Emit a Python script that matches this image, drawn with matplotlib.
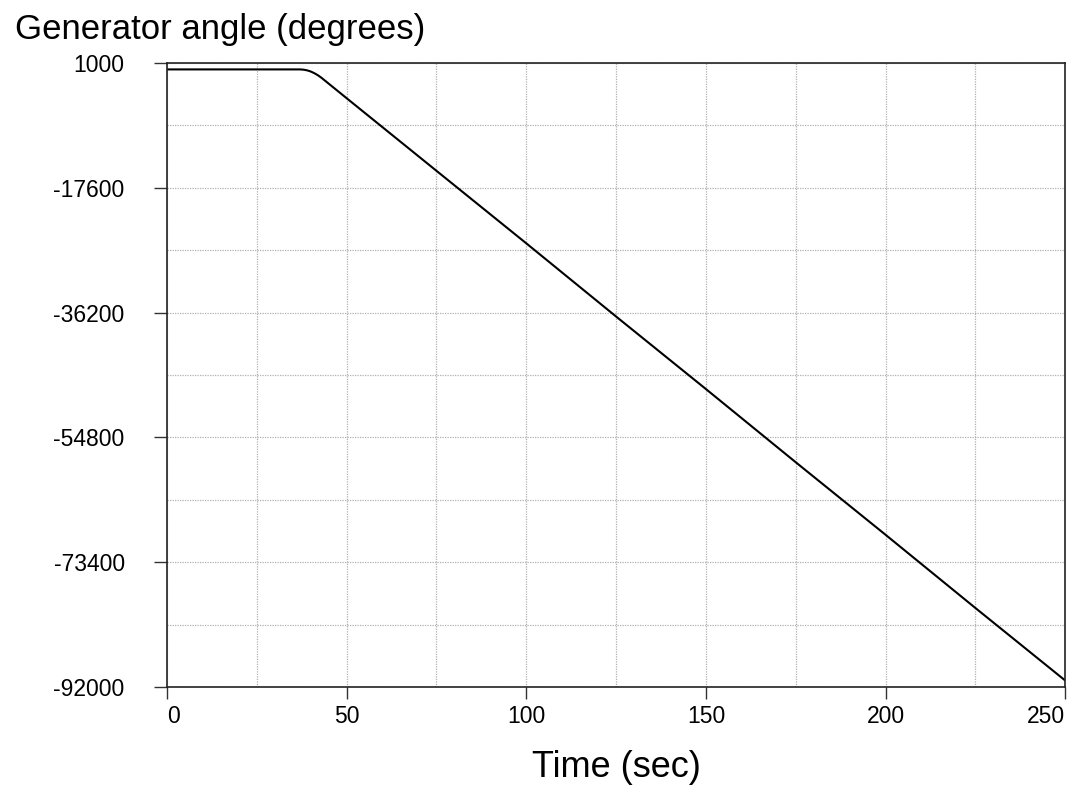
import matplotlib
matplotlib.use("Agg")
import matplotlib.pyplot as plt
from matplotlib.ticker import FixedLocator

plt.rcParams['font.family'] = ['Liberation Sans', 'DejaVu Sans']

# Data
time_s = [0, 20, 37, 38, 39, 40, 41, 42, 43, 45, 50, 75, 100, 125, 150, 175, 200, 225, 250]
angle_deg = [0, 0, 0, -40, -140, -310, -560, -870, -1250, -2120, -4290, -15100,
             -25900, -36800, -47600, -58500, -69300, -80200, -91000]

x_ticks = [0, 50, 100, 150, 200, 250]
y_ticks = [1000, -17600, -36200, -54800, -73400, -92000]
x_grid = [25, 75, 125, 175, 225]
y_grid = [-8300, -26900, -45500, -64100, -82700]

W, H = 1069, 787
fig = plt.figure(figsize=(W / 100, H / 100), dpi=100)
ax = fig.add_axes([167 / W, 1 - 687.3 / H, (1065.3 - 167) / W, (687.3 - 62.7) / H])

ax.plot(time_s, angle_deg, color='black', lw=1.5, solid_joinstyle='round')

ax.set_xlim(0, 250)
ax.set_ylim(-92000, 1000)
ax.xaxis.set_major_locator(FixedLocator(x_ticks))
ax.yaxis.set_major_locator(FixedLocator(y_ticks))
ax.xaxis.set_minor_locator(FixedLocator(x_grid))
ax.yaxis.set_minor_locator(FixedLocator(y_grid))
ax.set_xticklabels([str(v) for v in x_ticks])
ax.set_yticklabels([str(v) for v in y_ticks])

ax.grid(True, which='both', color='#b0b0b0', linestyle=(0, (1, 1)), linewidth=0.9)
ax.tick_params(axis='both', which='major', direction='out', length=8.5, width=1,
               colors='#333333', labelcolor='black', labelsize=16.5)
ax.tick_params(axis='x', which='major', pad=4)
ax.tick_params(axis='y', which='major', length=9.5, pad=21)
ax.tick_params(axis='both', which='minor', length=0)
xlabels = ax.get_xticklabels()
xlabels[0].set_horizontalalignment('left')
xlabels[-1].set_horizontalalignment('right')
for s in ax.spines.values():
    s.set_color('#222222')
    s.set_linewidth(1.2)

ax.set_xlabel('Time (sec)', fontsize=26, labelpad=16)
fig.text(15 / W, 1 - 38.5 / H, 'Generator angle (degrees)', fontsize=25,
         ha='left', va='baseline')

fig.savefig('out.png', dpi=100)
